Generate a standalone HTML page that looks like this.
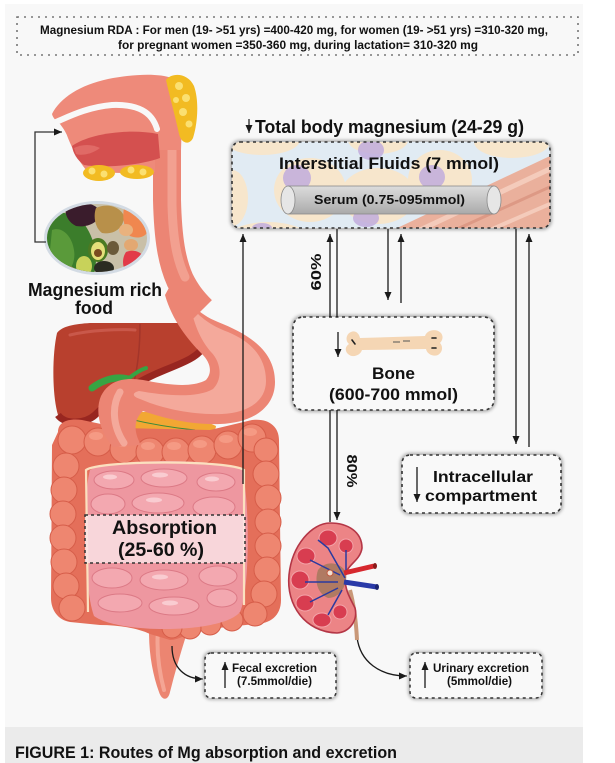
<!DOCTYPE html>
<html><head><meta charset="utf-8">
<style>
html,body{margin:0;padding:0;background:#fff;}
svg{display:block;}
text{font-family:"Liberation Sans",Arial,sans-serif;font-weight:bold;fill:#111;}
</style></head><body>
<svg width="615" height="763" viewBox="0 0 615 763" xmlns="http://www.w3.org/2000/svg">
<defs>
<marker id="ah" markerUnits="userSpaceOnUse" markerWidth="8" markerHeight="7" refX="8" refY="3.5" orient="auto"><path d="M0,0 L8,3.5 L0,7 Z" fill="#1a1a1a"/></marker>
<filter id="sh" x="-10%" y="-20%" width="120%" height="140%"><feGaussianBlur stdDeviation="1.6"/></filter>
<clipPath id="ic"><rect x="232" y="142" width="318" height="86" rx="8"/></clipPath>
<clipPath id="plate"><ellipse cx="97" cy="238" rx="50" ry="34"/></clipPath>
<linearGradient id="tube" x1="0" y1="0" x2="0" y2="1"><stop offset="0" stop-color="#dcdcdc"/><stop offset="0.5" stop-color="#c4c4c4"/><stop offset="1" stop-color="#a9a9a9"/></linearGradient>
</defs>

<!-- backgrounds -->
<rect x="5" y="4" width="578" height="723" fill="#f8f8f8"/>
<rect x="5" y="727" width="578" height="36" fill="#ebebeb"/>

<!-- RDA box -->
<rect x="17" y="17" width="561" height="38" fill="none" stroke="#777" stroke-width="1.6" stroke-dasharray="2,5"/>
<text x="40" y="34" font-size="12" textLength="508" lengthAdjust="spacingAndGlyphs">Magnesium RDA : For men (19- &gt;51 yrs) =400-420 mg, for women (19- &gt;51 yrs) =310-320 mg,</text>
<text x="118" y="49" font-size="12" textLength="360" lengthAdjust="spacingAndGlyphs">for pregnant women =350-360 mg, during lactation= 310-320 mg</text>

<!-- ===== Anatomy ===== -->
<!-- liver -->
<path d="M57,333 C62,326 75,324 90,323 L195,323 C204,324 206,332 204,345 C200,356 185,362 165,370 C140,380 115,395 95,415 C85,424 65,425 58,415 C52,395 52,355 57,333 Z" fill="#b8402e"/>
<path d="M204,345 C200,356 185,362 165,370 C140,380 115,395 95,415 C85,424 65,425 58,415" fill="none" stroke="#982620" stroke-width="7"/>
<path d="M140,324 C140,345 138,365 134,382" fill="none" stroke="#a3352a" stroke-width="1.5"/>
<path d="M70,335 C90,330 120,329 135,330" fill="none" stroke="#c9584a" stroke-width="3" stroke-linecap="round"/>
<!-- gallbladder -->
<path d="M92,388 C104,379 117,376 128,379" fill="none" stroke="#37a443" stroke-width="7" stroke-linecap="round"/>
<path d="M128,379 C134,374 140,370 146,368" fill="none" stroke="#37a443" stroke-width="4" stroke-linecap="round"/>
<!-- pancreas -->
<path d="M116,414 C150,408 195,416 216,426 C215,438 195,440 172,437 C145,434 126,430 116,414 Z" fill="#f2a733"/>
<path d="M125,418 C150,424 175,428 195,430" fill="none" stroke="#3a8a3a" stroke-width="1"/>

<!-- rectum -->
<path d="M150,612 C147,642 151,670 159,692 C162,701 168,701 170,692 C176,668 183,645 191,620 Z" fill="#ec8571"/>
<path d="M158,630 C156,655 160,675 164,690" fill="none" stroke="#f4a594" stroke-width="4" stroke-linecap="round"/>

<!-- colon base -->
<path d="M58,432 C58,422 68,418 82,420 L120,428 L210,430 L252,420 C268,418 279,426 279,440 L281,600 C281,616 270,624 255,624 L200,630 C188,634 178,640 170,640 L150,634 C138,628 118,625 100,625 L70,622 C58,620 51,610 51,598 L52,445 Z" fill="#e46f5a"/>
<!-- colon bumps -->
<g fill="#ee8670" stroke="#d65d49" stroke-width="1">
<circle cx="72" cy="440" r="14"/><circle cx="98" cy="442" r="14"/><circle cx="124" cy="449" r="14"/><circle cx="150" cy="452" r="14"/><circle cx="176" cy="452" r="14"/><circle cx="202" cy="450" r="14"/><circle cx="228" cy="445" r="14"/><circle cx="252" cy="438" r="14"/><circle cx="266" cy="450" r="12"/>
<circle cx="66" cy="466" r="13"/><circle cx="64" cy="490" r="13"/><circle cx="63" cy="514" r="13"/><circle cx="63" cy="538" r="13"/><circle cx="64" cy="562" r="13"/><circle cx="66" cy="586" r="13"/><circle cx="72" cy="608" r="13"/>
<circle cx="266" cy="474" r="13"/><circle cx="268" cy="498" r="13"/><circle cx="268" cy="522" r="13"/><circle cx="268" cy="546" r="13"/><circle cx="267" cy="570" r="13"/><circle cx="264" cy="594" r="13"/><circle cx="255" cy="614" r="12"/>
<circle cx="232" cy="620" r="11"/><circle cx="210" cy="624" r="11"/><circle cx="190" cy="628" r="11"/><circle cx="172" cy="628" r="10"/>
</g>
<g fill="#f7a08a" opacity="0.8">
<ellipse cx="96" cy="436" rx="7" ry="4"/><ellipse cx="122" cy="443" rx="7" ry="4"/><ellipse cx="148" cy="446" rx="7" ry="4"/><ellipse cx="174" cy="446" rx="7" ry="4"/><ellipse cx="200" cy="444" rx="7" ry="4"/><ellipse cx="226" cy="439" rx="7" ry="4"/><ellipse cx="250" cy="432" rx="7" ry="4"/>
</g>
<!-- small intestine -->
<path d="M90,470 C110,458 222,458 242,470 C250,500 250,590 240,612 C222,634 118,634 94,616 C84,590 82,500 90,470 Z" fill="#ee97a0"/>
<path d="M88,612 L86,470 C100,460 230,460 244,470 L244,605" fill="none" stroke="#fbe0bf" stroke-width="2.2"/>
<g fill="#f3a8b0" stroke="#dc7a86" stroke-width="1">
<ellipse cx="114" cy="480" rx="20" ry="9"/><ellipse cx="164" cy="478" rx="23" ry="9"/><ellipse cx="216" cy="482" rx="19" ry="9"/>
<ellipse cx="108" cy="504" rx="17" ry="10"/><ellipse cx="158" cy="503" rx="26" ry="10"/><ellipse cx="214" cy="507" rx="21" ry="10"/>
<ellipse cx="112" cy="578" rx="20" ry="10"/><ellipse cx="164" cy="580" rx="24" ry="10"/><ellipse cx="218" cy="576" rx="19" ry="10"/>
<ellipse cx="120" cy="603" rx="22" ry="9"/><ellipse cx="174" cy="606" rx="25" ry="9"/><ellipse cx="222" cy="598" rx="15" ry="9"/>
</g>
<g fill="#fbd6da" opacity="0.8">
<ellipse cx="110" cy="477" rx="7" ry="2.5"/><ellipse cx="160" cy="475" rx="8" ry="2.5"/><ellipse cx="212" cy="479" rx="7" ry="2.5"/><ellipse cx="154" cy="500" rx="8" ry="2.5"/><ellipse cx="160" cy="577" rx="8" ry="2.5"/><ellipse cx="170" cy="603" rx="8" ry="2.5"/>
</g>

<!-- stomach -->
<path d="M176,275 C184,300 198,314 218,322 C248,334 275,350 275,382 C275,408 252,423 220,424 C188,425 160,417 143,411 C134,419 133,431 141,445 L113,447 C99,431 95,410 101,396 C109,380 125,377 143,380 C168,385 192,388 206,380 C213,372 210,362 202,354 C188,340 172,320 165,295 Z" fill="#ec8574"/>
<path d="M190,305 C200,318 212,326 228,332 C252,342 266,358 266,381 C266,401 248,413 222,414 C192,415 168,409 150,403 L140,399 C133,397 131,393 139,391 C162,395 196,399 213,389 C223,379 221,362 211,352 C202,342 195,328 190,305 Z" fill="#f4a99b"/>
<path d="M120,392 C112,405 112,425 124,443" fill="none" stroke="#f4a99b" stroke-width="7" stroke-linecap="round"/>
<!-- esophagus -->
<path d="M167,130 L167,200 C168,240 172,262 180,280 C186,292 192,300 202,310" fill="none" stroke="#ec8574" stroke-width="28"/>
<path d="M172,150 L172,205 C173,240 177,260 185,277" fill="none" stroke="#f2a090" stroke-width="9" stroke-linecap="round"/>

<!-- head -->
<path d="M52,114 C60,98 80,85 108,79 C133,74 158,73 172,78 L182,120 L181,150 L155,150 L155,172 C130,174 105,173 86,170 C78,160 72,148 68,138 C66,132 63,128 60,124 C56,121 53,118 52,114 Z" fill="#ee8a7a"/>
<path d="M56,122 C70,116 88,107 112,105 C138,104 152,112 157,129" fill="none" stroke="#f8f8f8" stroke-width="6" stroke-linecap="round"/>
<path d="M72,146 C88,134 128,128 158,134 L160,158 C138,166 102,168 84,165 C77,160 73,153 72,146 Z" fill="#d4504f"/>
<path d="M74,148 C82,144 92,144 100,148 C92,154 82,156 76,154 Z" fill="#e06a66"/>
<!-- glands -->
<path d="M166,80 C172,72 188,73 194,86 C199,100 198,122 193,138 C189,146 181,143 179,134 C175,115 170,98 166,80 Z" fill="#f2bb22"/>
<g fill="#fbe071"><circle cx="179" cy="86" r="4"/><circle cx="186" cy="98" r="4"/><circle cx="183" cy="112" r="4"/><circle cx="189" cy="124" r="3.5"/><circle cx="176" cy="100" r="3"/></g>
<ellipse cx="99" cy="173" rx="16" ry="8" fill="#f2bb22"/>
<ellipse cx="137" cy="172" rx="17" ry="7" fill="#f2bb22"/>
<g fill="#fbe071"><circle cx="92" cy="171" r="3.5"/><circle cx="104" cy="174" r="3.5"/><circle cx="131" cy="170" r="3.5"/><circle cx="143" cy="172" r="3.5"/></g>

<!-- food plate -->
<ellipse cx="97" cy="238" rx="53" ry="37" fill="#d3dbe4"/>
<g clip-path="url(#plate)">
<rect x="44" y="200" width="110" height="80" fill="#c9c0a8"/>
<path d="M44,215 C60,208 75,215 85,225 C95,240 100,260 92,280 L44,280 Z" fill="#3b7d2b"/>
<path d="M52,230 C62,226 72,236 74,250 C76,262 70,274 60,276 L48,270 Z" fill="#5a9a3a"/>
<path d="M66,206 C78,200 96,202 100,212 C100,222 88,228 76,226 C68,222 64,214 66,206 Z" fill="#3a1c2c"/>
<path d="M96,208 C106,203 120,206 124,216 C124,228 114,235 102,233 C95,228 93,216 96,208 Z" fill="#b8904a"/>
<path d="M124,208 C136,206 148,214 150,226 C148,236 140,240 130,236 C124,228 122,218 124,208 Z" fill="#f0874f"/>
<ellipse cx="126" cy="230" rx="7" ry="6" fill="#e9b27e"/>
<ellipse cx="131" cy="245" rx="7" ry="6" fill="#e3a872"/>
<ellipse cx="98" cy="250" rx="10" ry="12" fill="#4c7a22"/>
<ellipse cx="98" cy="251" rx="7" ry="9" fill="#e5df7a"/>
<circle cx="98" cy="253" r="4" fill="#7a4a20"/>
<ellipse cx="104" cy="268" rx="10" ry="7" fill="#2b2b22"/>
<ellipse cx="84" cy="266" rx="8" ry="10" fill="#c8d25a"/>
<path d="M126,252 C136,248 146,254 146,264 C144,272 134,276 126,272 C122,266 122,258 126,252 Z" fill="#e23a48"/>
<ellipse cx="113" cy="248" rx="6" ry="7" fill="#6b5a3a"/>
<ellipse cx="68" cy="272" rx="8" ry="6" fill="#a88a50"/>
</g>
<!-- bracket arrow -->
<path d="M46,242 L35,242 L35,132 L62,132" fill="none" stroke="#333" stroke-width="1.3" marker-end="url(#ah)"/>
<text x="28" y="296" font-size="18" textLength="134" lengthAdjust="spacingAndGlyphs">Magnesium rich</text>
<text x="75" y="314" font-size="18" textLength="38" lengthAdjust="spacingAndGlyphs">food</text>

<!-- absorption box -->
<rect x="85" y="515" width="160" height="48" fill="#fae4e6" fill-opacity="0.82" stroke="#333" stroke-width="1.5" stroke-dasharray="3,3"/>
<text x="112" y="534" font-size="19" textLength="105" lengthAdjust="spacingAndGlyphs">Absorption</text>
<text x="118" y="556" font-size="19" textLength="86" lengthAdjust="spacingAndGlyphs">(25-60 %)</text>

<!-- ===== Interstitial box ===== -->
<text x="255" y="133" font-size="18" textLength="269" lengthAdjust="spacingAndGlyphs">Total body magnesium (24-29 g)</text>
<line x1="249" y1="119" x2="249" y2="133" stroke="#1a1a1a" stroke-width="1.2" marker-end="url(#ah)"/>

<rect x="232" y="142" width="318" height="86" rx="8" fill="none" stroke="#aaa" stroke-width="4" filter="url(#sh)"/>
<g clip-path="url(#ic)">
<rect x="232" y="142" width="318" height="86" fill="#e1ebf3"/>
<g fill="#f7e6cc">
<ellipse cx="262" cy="140" rx="38" ry="15"/>
<ellipse cx="310" cy="190" rx="36" ry="32"/>
<ellipse cx="232" cy="198" rx="16" ry="28"/>
<ellipse cx="378" cy="196" rx="38" ry="28"/>
<ellipse cx="378" cy="140" rx="30" ry="14"/>
<ellipse cx="440" cy="180" rx="32" ry="30"/>
<ellipse cx="512" cy="142" rx="38" ry="16"/>
<ellipse cx="268" cy="238" rx="40" ry="16"/>
</g>
<g fill="#c1acdc" opacity="0.85">
<ellipse cx="297" cy="178" rx="14" ry="13"/>
<ellipse cx="371" cy="150" rx="13" ry="10"/>
<ellipse cx="432" cy="177" rx="13" ry="12"/>
<ellipse cx="366" cy="218" rx="13" ry="9"/>
<ellipse cx="262" cy="228" rx="10" ry="5"/>
</g>
<polygon points="393,230 552,155 552,230" fill="#eab09c"/>
<path d="M420,230 L552,168" stroke="#f4cbbb" stroke-width="5"/>
<path d="M455,230 L552,186" stroke="#dd9985" stroke-width="3"/>
<path d="M490,230 L552,203" stroke="#f4cbbb" stroke-width="4"/>
</g>
<rect x="232" y="142" width="318" height="86" rx="8" fill="none" stroke="#333" stroke-width="1.6" stroke-dasharray="3,3.5"/>
<text x="279" y="169" font-size="17" textLength="220" lengthAdjust="spacingAndGlyphs">Interstitial Fluids (7 mmol)</text>
<!-- serum tube -->
<rect x="288" y="186" width="206" height="28" fill="url(#tube)" stroke="#8a8a8a" stroke-width="0.8"/>
<ellipse cx="288" cy="200" rx="7" ry="14" fill="#e6e6e6" stroke="#8a8a8a" stroke-width="0.8"/>
<ellipse cx="494" cy="200" rx="7" ry="14" fill="#e6e6e6" stroke="#8a8a8a" stroke-width="0.8"/>
<text x="314" y="204" font-size="13" textLength="151" lengthAdjust="spacingAndGlyphs">Serum (0.75-095mmol)</text>

<!-- ===== Bone box ===== -->
<rect x="293" y="317" width="201" height="93" rx="10" fill="none" stroke="#aaa" stroke-width="4" filter="url(#sh)"/>
<rect x="293" y="317" width="201" height="93" rx="10" fill="#f9f9f9" stroke="#333" stroke-width="1.6" stroke-dasharray="3,3.5"/>
<path d="M360,338 L425,336 C427,330 436,328 441,333 C444,337 442,341 440,343 C443,346 443,352 438,355 C433,357 427,354 426,349 L362,350 C360,356 352,358 348,354 C344,350 346,346 349,344 C345,341 346,334 351,332 C355,330 359,333 360,338 Z" fill="#f5d6b4"/>
<g stroke="#222" stroke-width="1.6" stroke-linecap="round"><line x1="432" y1="338" x2="436" y2="338"/><line x1="432" y1="348" x2="436" y2="348"/><line x1="352" y1="340" x2="355" y2="344"/></g>
<g stroke="#555" stroke-width="1"><line x1="393" y1="342" x2="400" y2="342"/><line x1="403" y1="341" x2="410" y2="341"/></g>
<line x1="338" y1="332" x2="338" y2="357" stroke="#1a1a1a" stroke-width="1.3" marker-end="url(#ah)"/>
<text x="372" y="379" font-size="17" textLength="43" lengthAdjust="spacingAndGlyphs">Bone</text>
<text x="329" y="400" font-size="17" textLength="129" lengthAdjust="spacingAndGlyphs">(600-700 mmol)</text>

<!-- ===== Intracellular box ===== -->
<rect x="402" y="455" width="159" height="58" rx="8" fill="none" stroke="#aaa" stroke-width="4" filter="url(#sh)"/>
<rect x="402" y="455" width="159" height="58" rx="8" fill="#f9f9f9" stroke="#333" stroke-width="1.6" stroke-dasharray="3,3.5"/>
<line x1="417" y1="467" x2="417" y2="502" stroke="#1a1a1a" stroke-width="1.3" marker-end="url(#ah)"/>
<text x="433" y="482" font-size="16" textLength="100" lengthAdjust="spacingAndGlyphs">Intracellular</text>
<text x="425" y="501" font-size="16" textLength="112" lengthAdjust="spacingAndGlyphs">compartment</text>

<!-- ===== connectors ===== -->
<g stroke="#1a1a1a" stroke-width="1.3" fill="none">
<line x1="243" y1="484" x2="243" y2="234" marker-end="url(#ah)"/>
<line x1="330" y1="317" x2="330" y2="234" marker-end="url(#ah)"/>
<line x1="337" y1="229" x2="337" y2="317"/>
<line x1="388" y1="229" x2="388" y2="300" marker-end="url(#ah)"/>
<line x1="401" y1="303" x2="401" y2="234" marker-end="url(#ah)"/>
<line x1="516" y1="229" x2="516" y2="444" marker-end="url(#ah)"/>
<line x1="529" y1="447" x2="529" y2="234" marker-end="url(#ah)"/>
<line x1="330" y1="410" x2="330" y2="522"/>
<line x1="337" y1="410" x2="337" y2="520" marker-end="url(#ah)"/>
<path d="M172,646 C172,668 185,679 203,679" marker-end="url(#ah)"/>
<path d="M357,637 C360,662 380,676 407,676" marker-end="url(#ah)"/>
</g>
<text transform="translate(316,272) rotate(-90)" x="0" y="5" font-size="15" text-anchor="middle" textLength="37" lengthAdjust="spacingAndGlyphs">60%</text>
<text transform="translate(352,471) rotate(90)" x="0" y="5" font-size="15" text-anchor="middle" textLength="33" lengthAdjust="spacingAndGlyphs">80%</text>

<!-- ===== Kidney ===== -->
<path d="M350,590 C354,605 356,620 357,640" fill="none" stroke="#c99878" stroke-width="4"/>
<path d="M330,523 C312,523 292,545 289,575 C286,605 305,632 337,633 C350,632 358,620 355,608 C350,598 345,590 345,578 C345,565 360,562 362,548 C362,532 348,523 330,523 Z" fill="#ec8486" stroke="#b43646" stroke-width="1.6"/>
<g fill="#d83d50" stroke="#f3a3a8" stroke-width="1">
<ellipse cx="328" cy="538" rx="9" ry="8"/>
<ellipse cx="346" cy="546" rx="7" ry="7"/>
<ellipse cx="306" cy="556" rx="9" ry="8"/>
<ellipse cx="300" cy="580" rx="9" ry="9"/>
<ellipse cx="305" cy="603" rx="9" ry="8"/>
<ellipse cx="322" cy="620" rx="9" ry="7"/>
<ellipse cx="340" cy="612" rx="7" ry="7"/>
</g>
<path d="M318,570 C326,560 340,562 346,572 C348,585 340,598 328,598 C318,594 314,582 318,570 Z" fill="#b07a62"/>
<g fill="none" stroke="#2a3aa0" stroke-width="1.5">
<path d="M345,578 L328,548 L318,540"/><path d="M340,575 L310,560"/><path d="M338,582 L305,582"/><path d="M338,588 L310,602"/><path d="M342,590 L328,615"/><path d="M346,575 L346,550"/>
</g>
<circle cx="330" cy="573" r="3" fill="#f3e0d0" stroke="#c05a40" stroke-width="1"/>
<path d="M344,573 L374,566" stroke="#d6282e" stroke-width="5"/>
<ellipse cx="375" cy="566" rx="2" ry="3" fill="#8a1a1a"/>
<path d="M344,582 L377,587" stroke="#2a3aa8" stroke-width="5"/>
<ellipse cx="377" cy="587" rx="2" ry="3" fill="#1a2470"/>

<!-- ===== excretion boxes ===== -->
<rect x="205" y="653" width="131" height="45" rx="6" fill="none" stroke="#aaa" stroke-width="3.5" filter="url(#sh)"/>
<rect x="205" y="653" width="131" height="45" rx="6" fill="#f9f9f9" stroke="#333" stroke-width="1.5" stroke-dasharray="3,3.5"/>
<line x1="225" y1="688" x2="225" y2="662" stroke="#1a1a1a" stroke-width="1.3" marker-end="url(#ah)"/>
<text x="232" y="672" font-size="12" textLength="85" lengthAdjust="spacingAndGlyphs">Fecal excretion</text>
<text x="237" y="685" font-size="12" textLength="75" lengthAdjust="spacingAndGlyphs">(7.5mmol/die)</text>

<rect x="410" y="653" width="132" height="45" rx="6" fill="none" stroke="#aaa" stroke-width="3.5" filter="url(#sh)"/>
<rect x="410" y="653" width="132" height="45" rx="6" fill="#f9f9f9" stroke="#333" stroke-width="1.5" stroke-dasharray="3,3.5"/>
<line x1="425" y1="688" x2="425" y2="662" stroke="#1a1a1a" stroke-width="1.3" marker-end="url(#ah)"/>
<text x="433" y="672" font-size="12" textLength="96" lengthAdjust="spacingAndGlyphs">Urinary excretion</text>
<text x="447" y="685" font-size="12" textLength="65" lengthAdjust="spacingAndGlyphs">(5mmol/die)</text>

<!-- caption -->
<text x="15" y="758" font-size="17" textLength="382" lengthAdjust="spacingAndGlyphs" fill="#222">FIGURE 1: Routes of Mg absorption and excretion</text>
</svg>
</body></html>
